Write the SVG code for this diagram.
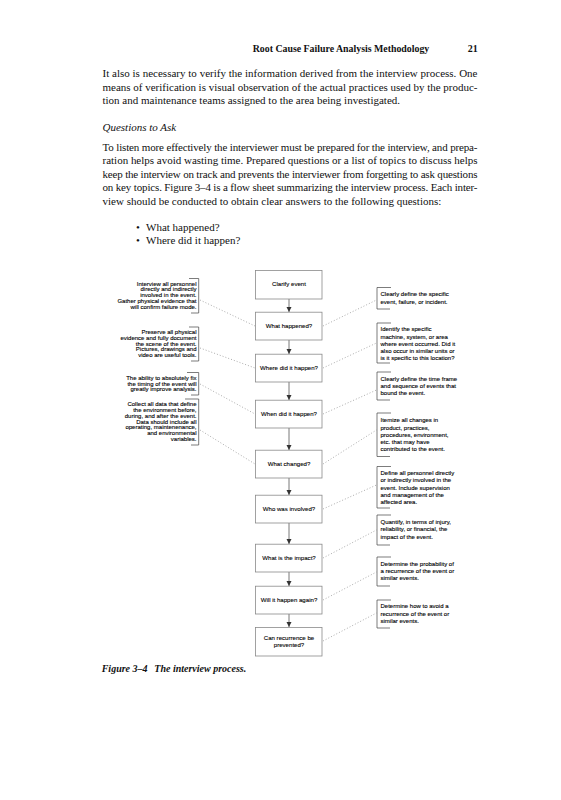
<svg xmlns="http://www.w3.org/2000/svg" width="561" height="800" viewBox="0 0 561 800">
<style>
.bg{fill:#ffffff}
.body{font-family:"Liberation Serif","Times New Roman",serif;font-size:11px;fill:#111}
.hdr{font-family:"Liberation Serif","Times New Roman",serif;font-size:10px;font-weight:bold;fill:#111}
.it{font-style:italic}
.cap{font-family:"Liberation Serif","Times New Roman",serif;font-size:10px;font-weight:bold;font-style:italic;fill:#111}
.nt{font-family:"Liberation Sans",Arial,sans-serif;font-size:6px;fill:#000;stroke:#000;stroke-width:0.12}
.bt{font-family:"Liberation Sans",Arial,sans-serif;font-size:6.1px;fill:#000;stroke:#000;stroke-width:0.1;text-anchor:middle}
.box{fill:#ffffff;stroke:#8a8a8a;stroke-width:0.8}
.brk{fill:none;stroke:#444;stroke-width:0.7}
.flow{stroke:#555;stroke-width:0.8;fill:none}
.dot{stroke:#888;stroke-width:0.7;stroke-dasharray:1 2;fill:none}
</style>
<defs>
<marker id="ah" markerWidth="6" markerHeight="6" refX="5" refY="3" orient="auto" markerUnits="userSpaceOnUse">
<path d="M0,0.5 L5,3 L0,5.5 Z" fill="#333"/>
</marker>
</defs>
<rect class="bg" x="0" y="0" width="561" height="800"/>

<g id="page-text">
<text class="hdr" x="252.7" y="51.5" textLength="176.6" lengthAdjust="spacingAndGlyphs">Root Cause Failure Analysis Methodology</text>
<text class="hdr" x="477.7" y="51.5" text-anchor="end">21</text>
<text class="body" x="102.5" y="77" textLength="375" lengthAdjust="spacing">It also is necessary to verify the information derived from the interview process. One</text>
<text class="body" x="102.5" y="90.7" textLength="375" lengthAdjust="spacing">means of verification is visual observation of the actual practices used by the produc-</text>
<text class="body" x="102.5" y="104.4">tion and maintenance teams assigned to the area being investigated.</text>
<text class="body it" x="102.5" y="130.5">Questions to Ask</text>
<text class="body" x="102.5" y="150.5" textLength="375" lengthAdjust="spacing">To listen more effectively the interviewer must be prepared for the interview, and prepa-</text>
<text class="body" x="102.5" y="164" textLength="375" lengthAdjust="spacing">ration helps avoid wasting time. Prepared questions or a list of topics to discuss helps</text>
<text class="body" x="102.5" y="177.5" textLength="375" lengthAdjust="spacing">keep the interview on track and prevents the interviewer from forgetting to ask questions</text>
<text class="body" x="102.5" y="191" textLength="375" lengthAdjust="spacing">on key topics. Figure 3–4 is a flow sheet summarizing the interview process. Each inter-</text>
<text class="body" x="102.5" y="204.5">view should be conducted to obtain clear answers to the following questions:</text>
<text class="body" x="136" y="230.5">•</text>
<text class="body" x="146" y="230.5">What happened?</text>
<text class="body" x="136" y="244">•</text>
<text class="body" x="146" y="244">Where did it happen?</text>
<text class="cap" x="101.7" y="671.5">Figure 3–4</text>
<text class="cap" x="154.3" y="671.5">The interview process.</text>
</g>

<g id="connectors">
<line class="flow" x1="289" y1="299" x2="289" y2="312" marker-end="url(#ah)"/>
<line class="flow" x1="289" y1="340" x2="289" y2="354" marker-end="url(#ah)"/>
<line class="flow" x1="289" y1="382" x2="289" y2="400" marker-end="url(#ah)"/>
<line class="flow" x1="289" y1="428" x2="289" y2="450" marker-end="url(#ah)"/>
<line class="flow" x1="289" y1="478" x2="289" y2="495" marker-end="url(#ah)"/>
<line class="flow" x1="289" y1="523" x2="289" y2="544" marker-end="url(#ah)"/>
<line class="flow" x1="289" y1="572" x2="289" y2="586" marker-end="url(#ah)"/>
<line class="flow" x1="289" y1="614" x2="289" y2="627" marker-end="url(#ah)"/>
<line class="dot" x1="200" y1="300" x2="255" y2="326"/>
<line class="dot" x1="200" y1="348" x2="255" y2="368"/>
<line class="dot" x1="200" y1="384" x2="255" y2="414"/>
<line class="dot" x1="200" y1="430" x2="255" y2="464"/>
<line class="dot" x1="323" y1="326" x2="376.5" y2="300"/>
<line class="dot" x1="323" y1="368" x2="376.5" y2="343"/>
<line class="dot" x1="323" y1="414" x2="376.5" y2="390"/>
<line class="dot" x1="323" y1="464" x2="376.5" y2="430"/>
<line class="dot" x1="323" y1="509" x2="376.5" y2="485"/>
<line class="dot" x1="323" y1="558" x2="376.5" y2="530"/>
<line class="dot" x1="323" y1="600" x2="376.5" y2="572"/>
<line class="dot" x1="323" y1="641" x2="376.5" y2="613"/>
</g>

<g id="box-clarify"><rect class="box" x="255.5" y="270.5" width="66.5" height="28.5"/><text class="bt" x="289" y="286.2">Clarify event</text></g>
<g id="box-what-happened"><rect class="box" x="255.5" y="312.2" width="66.5" height="27.8"/><text class="bt" x="289" y="328.2">What happened?</text></g>
<g id="box-where"><rect class="box" x="255.5" y="354.2" width="66.5" height="27.8"/><text class="bt" x="289" y="370.2">Where did it happen?</text></g>
<g id="box-when"><rect class="box" x="255.5" y="400.2" width="66.5" height="27.8"/><text class="bt" x="289" y="416.2">When did it happen?</text></g>
<g id="box-what-changed"><rect class="box" x="255.5" y="450.2" width="66.5" height="27.8"/><text class="bt" x="289" y="466.2">What changed?</text></g>
<g id="box-who"><rect class="box" x="255.5" y="495.2" width="66.5" height="27.8"/><text class="bt" x="289" y="511.2">Who was involved?</text></g>
<g id="box-impact"><rect class="box" x="255.5" y="544.2" width="66.5" height="27.8"/><text class="bt" x="289" y="560.2">What is the impact?</text></g>
<g id="box-again"><rect class="box" x="255.5" y="586.2" width="66.5" height="27.8"/><text class="bt" x="289" y="602.2">Will it happen again?</text></g>
<g id="box-prevent"><rect class="box" x="255.5" y="627.4" width="66.5" height="28.6"/><text class="bt" x="289" y="639.6">Can recurrence be</text><text class="bt" x="289" y="647.4">prevented?</text></g>

<g id="note-left-1">
<path class="brk" d="M189,278.5 H198.7 V313 H191"/>
<text class="nt" x="196.5" y="285.5" text-anchor="end">Interview all personnel</text>
<text class="nt" x="196.5" y="291.3" text-anchor="end">directly and indirectly</text>
<text class="nt" x="196.5" y="297.1" text-anchor="end">involved in the event.</text>
<text class="nt" x="196.5" y="302.9" text-anchor="end">Gather physical evidence that</text>
<text class="nt" x="196.5" y="308.7" text-anchor="end">will confirm failure mode.</text>
</g>
<g id="note-left-2">
<path class="brk" d="M189,327 H198.7 V361 H191"/>
<text class="nt" x="196.5" y="333.9" text-anchor="end">Preserve all physical</text>
<text class="nt" x="196.5" y="339.7" text-anchor="end">evidence and fully document</text>
<text class="nt" x="196.5" y="345.5" text-anchor="end">the scene of the event.</text>
<text class="nt" x="196.5" y="351.3" text-anchor="end">Pictures, drawings and</text>
<text class="nt" x="196.5" y="357.1" text-anchor="end">video are useful tools.</text>
</g>
<g id="note-left-3">
<path class="brk" d="M187,372.5 H198.7 V395 H191"/>
<text class="nt" x="196.5" y="379.7" text-anchor="end">The ability to absolutely fix</text>
<text class="nt" x="196.5" y="385.5" text-anchor="end">the timing of the event will</text>
<text class="nt" x="196.5" y="391.3" text-anchor="end">greatly improve analysis.</text>
</g>
<g id="note-left-4">
<path class="brk" d="M185,399 H198.7 V445 H191"/>
<text class="nt" x="196.5" y="406.2" text-anchor="end">Collect all data that define</text>
<text class="nt" x="196.5" y="412" text-anchor="end">the environment before,</text>
<text class="nt" x="196.5" y="417.8" text-anchor="end">during, and after the event.</text>
<text class="nt" x="196.5" y="423.6" text-anchor="end">Data should include all</text>
<text class="nt" x="196.5" y="429.4" text-anchor="end">operating, maintenenance,</text>
<text class="nt" x="196.5" y="435.2" text-anchor="end">and environmental</text>
<text class="nt" x="196.5" y="441" text-anchor="end">variables.</text>
</g>

<g id="note-right-1">
<path class="brk" d="M391,287.5 H377 V309 H390"/>
<text class="nt" x="380.5" y="296.2">Clearly define the specific</text>
<text class="nt" x="380.5" y="303.5">event, failure, or incident.</text>
</g>
<g id="note-right-2">
<path class="brk" d="M391,323 H377 V363 H390"/>
<text class="nt" x="380.5" y="331.2">Identify the specific</text>
<text class="nt" x="380.5" y="338.5">machine, system, or area</text>
<text class="nt" x="380.5" y="345.8">where event occurred.  Did it</text>
<text class="nt" x="380.5" y="353.1">also occur in similar units or</text>
<text class="nt" x="380.5" y="360.4">is it specific to this location?</text>
</g>
<g id="note-right-3">
<path class="brk" d="M391,372 H377 V400 H390"/>
<text class="nt" x="380.5" y="380.5">Clearly define the time frame</text>
<text class="nt" x="380.5" y="387.8">and sequence of events that</text>
<text class="nt" x="380.5" y="395.1">bound the event.</text>
</g>
<g id="note-right-4">
<path class="brk" d="M391,413 H377 V456.5 H390"/>
<text class="nt" x="380.5" y="422.2">Itemize all changes in</text>
<text class="nt" x="380.5" y="429.5">product, practices,</text>
<text class="nt" x="380.5" y="436.8">procedures, environment,</text>
<text class="nt" x="380.5" y="444.1">etc. that may have</text>
<text class="nt" x="380.5" y="451.4">contributed to the event.</text>
</g>
<g id="note-right-5">
<path class="brk" d="M391,466.5 H377 V508 H390"/>
<text class="nt" x="380.5" y="474.9">Define all personnel directly</text>
<text class="nt" x="380.5" y="482.2">or indirectly involved in the</text>
<text class="nt" x="380.5" y="489.5">event.  Include supervision</text>
<text class="nt" x="380.5" y="496.8">and management of the</text>
<text class="nt" x="380.5" y="504.1">affected area.</text>
</g>
<g id="note-right-6">
<path class="brk" d="M391,515 H377 V545 H390"/>
<text class="nt" x="380.5" y="523.9">Quantify, in terms of injury,</text>
<text class="nt" x="380.5" y="531.2">reliability, or financial, the</text>
<text class="nt" x="380.5" y="538.5">impact of the event.</text>
</g>
<g id="note-right-7">
<path class="brk" d="M391,557 H377 V586 H390"/>
<text class="nt" x="380.5" y="565.5">Determine the probability of</text>
<text class="nt" x="380.5" y="572.8">a recurrence of the event or</text>
<text class="nt" x="380.5" y="580.1">similar events.</text>
</g>
<g id="note-right-8">
<path class="brk" d="M391,600 H377 V628 H390"/>
<text class="nt" x="380.5" y="608.2">Determine how to avoid a</text>
<text class="nt" x="380.5" y="615.5">recurrence of the event or</text>
<text class="nt" x="380.5" y="622.8">similar events.</text>
</g>
</svg>
